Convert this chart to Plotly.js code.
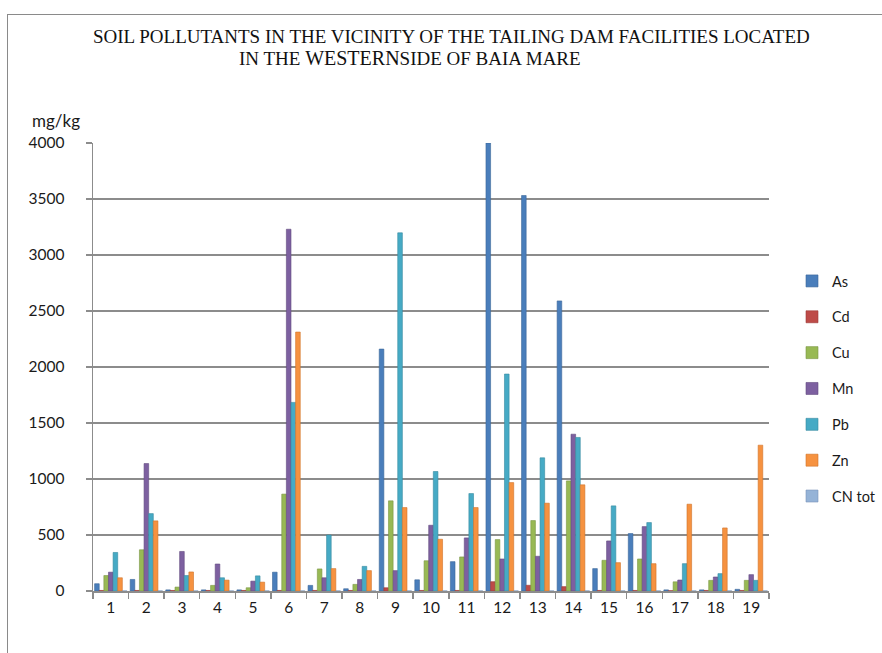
<!DOCTYPE html>
<html>
<head>
<meta charset="utf-8">
<script src="https://cdn.plot.ly/plotly-3.0.1.min.js"></script>
<style>
html,body{margin:0;padding:0;background:#fff;}
#frame{position:absolute;left:7px;top:14px;width:900px;height:700px;border:1.5px solid #8a8a8a;box-sizing:border-box;pointer-events:none;z-index:5;}
#chart{width:882px;height:653px;}
</style>
</head>
<body>
<div id="frame"></div>
<div id="chart"></div>
<script>
const categories = ["1","2","3","4","5","6","7","8","9","10","11","12","13","14","15","16","17","18","19"];
const seriesNames = ["As","Cd","Cu","Mn","Pb","Zn","CN tot"];
const As   = [65, 103, 10, 10, 10, 168, 50, 20, 2160, 100, 262, 4000, 3531, 2590, 200, 513, 10, 10, 15];
const Cd   = [5, 5, 5, 5, 5, 5, 5, 5, 29, 5, 5, 83, 51, 39, 5, 5, 3, 5, 5];
const Cu   = [138, 368, 35, 50, 29, 865, 197, 59, 805, 270, 304, 459, 629, 983, 274, 286, 82, 95, 95];
const Mn   = [168, 1138, 353, 241, 88, 3230, 118, 103, 182, 587, 474, 286, 310, 1400, 447, 575, 98, 125, 146];
const Pb   = [344, 691, 138, 118, 135, 1684, 500, 220, 3198, 1067, 870, 1937, 1189, 1371, 760, 611, 244, 155, 95];
const Zn   = [118, 626, 170, 97, 79, 2312, 200, 182, 745, 462, 745, 968, 784, 948, 253, 244, 775, 563, 1302];
const CNtot= [1, 1, 1, 1, 1, 1, 1, 1, 1, 1, 1, 1, 1, 1, 1, 1, 1, 1, 1];
const yTicks = [0, 500, 1000, 1500, 2000, 2500, 3000, 3500, 4000];

const seriesValues = [As, Cd, Cu, Mn, Pb, Zn, CNtot];
const colors = ["#4A7EBB", "#BE4B48", "#98B954", "#7D60A0", "#46AAC5", "#F69240", "#95B3D7"];
const lines  = ["#3A6698", "#9C3A38", "#7A9643", "#634C80", "#358AA0", "#D0742A", "#7A94B8"];

const traces = seriesNames.map((n, i) => ({
  type: "bar",
  name: n,
  x: categories,
  y: seriesValues[i],
  legendgroup: n,
  marker: {color: colors[i], line: {color: lines[i], width: 0.6}},
  hoverinfo: "x+y+name"
}));

const layout = {
  width: 882, height: 653,
  margin: {l: 93, r: 113, t: 143, b: 62},
  paper_bgcolor: "#ffffff",
  plot_bgcolor: "#ffffff",
  barmode: "group",
  bargap: 0.09,
  bargroupgap: 0,
  font: {family: "Lato, 'Liberation Sans', sans-serif", size: 15, color: "#1a1a1a"},
  xaxis: {
    type: "category",
    showgrid: false,
    showline: true, linecolor: "#8c8c8c", linewidth: 1.5,
    ticks: "outside", ticklen: 6, tickcolor: "#8c8c8c", tickwidth: 1.5,
    tickson: "boundaries",
    ticklabelstandoff: 2,
    tickfont: {size: 15.5, color: "#1a1a1a"},
    zeroline: false
  },
  yaxis: {
    range: [0, 4000],
    tickvals: yTicks,
    showgrid: true, gridcolor: "#8c8c8c", gridwidth: 1.5,
    showline: true, linecolor: "#8c8c8c", linewidth: 1.5,
    ticks: "outside", ticklen: 6, tickcolor: "#8c8c8c", tickwidth: 1.5,
    ticklabelstandoff: 18,
    tickfont: {size: 15.5, color: "#1a1a1a"},
    zeroline: false
  },
  showlegend: true,
  legend: {
    xref: "container", yref: "container",
    x: 792 / 882, y: 1 - 265 / 653, xanchor: "left", yanchor: "top",
    font: {size: 14.5, color: "#1a1a1a"},
    traceorder: "grouped",
    tracegroupgap: 14,
    itemwidth: 30,
    bgcolor: "rgba(0,0,0,0)"
  },
  annotations: [
    {text: "SOIL POLLUTANTS IN THE VICINITY OF THE TAILING DAM FACILITIES LOCATED",
     xref: "paper", yref: "paper", x: 0.531, y: 1.237, xanchor: "center", yanchor: "middle",
     showarrow: false, font: {family: "'Liberation Serif', 'DejaVu Serif', serif", size: 19, color: "#111"}},
    {text: "IN THE <span style='font-size:20px'>WESTERN</span>SIDE OF BAIA MARE",
     xref: "paper", yref: "paper", x: 0.469, y: 1.19, xanchor: "center", yanchor: "middle",
     showarrow: false, font: {family: "'Liberation Serif', 'DejaVu Serif', serif", size: 19, color: "#111"}},
    {text: "mg/kg", xref: "paper", yref: "paper", x: -0.093, y: 1.05, xanchor: "left", yanchor: "middle",
     showarrow: false, font: {size: 17, color: "#1a1a1a"}}
  ]
};

Plotly.newPlot("chart", traces, layout, {displayModeBar: false, staticPlot: true});
</script>
</body>
</html>
